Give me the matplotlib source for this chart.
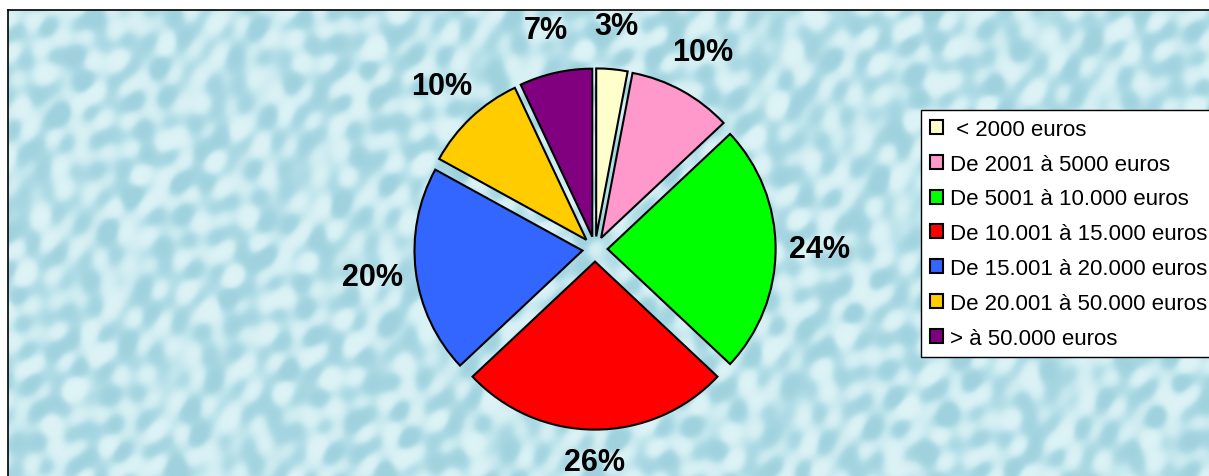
import numpy as np
import matplotlib.pyplot as plt
from matplotlib.colors import LinearSegmentedColormap

categories = [" < 2000 euros", "De 2001 à 5000 euros", "De 5001 à 10.000 euros",
              "De 10.001 à 15.000 euros", "De 15.001 à 20.000 euros",
              "De 20.001 à 50.000 euros", "> à 50.000 euros"]
values = [3, 10, 24, 26, 20, 10, 7]
colors = ["#FFFFCC", "#FF99CC", "#00FF00", "#FF0000", "#3366FF", "#FFCC00", "#800080"]

W, H = 1209, 477
fig = plt.figure(figsize=(W / 100, H / 100), dpi=100)
fig.patch.set_facecolor("white")

# water-drop style backdrop for the plot area
bg = fig.add_axes([8 / W, -0.05, 1.1, (H - 11) / H + 0.05])
yy, xx = np.mgrid[0:500, 0:1400].astype(float)
tex = np.zeros_like(xx)
waves = [(0.113, 0.047, 0.3), (-0.061, 0.124, 1.7), (0.087, -0.083, 2.9),
         (0.171, 0.131, 0.8), (-0.143, 0.069, 4.1), (0.052, 0.193, 5.3),
         (0.229, -0.041, 2.2), (-0.031, -0.211, 3.6), (0.197, 0.181, 0.1),
         (0.071, 0.027, 4.7)]
for kx, ky, ph in waves:
    tex += np.sin(kx * xx + ky * yy + ph)
tex = np.tanh(tex / 2.5)
cmap = LinearSegmentedColormap.from_list("water", ["#9FD2DE", "#BEE4EC", "#DDF3F6"])
bg.imshow(tex, cmap=cmap, aspect="auto", extent=[0, 1, 0, 1], interpolation="bilinear")
bg.set_xlim(0, 1)
bg.set_ylim(0, 1)
bg.set_xticks([])
bg.set_yticks([])
for s in bg.spines.values():
    s.set_color("black")
    s.set_linewidth(1.2)

# pie axes: centre at (595, 250) px, radius about 168 px
cx, cy, r, half = 595, 250, 168, 260
ax = fig.add_axes([(cx - half) / W, (H - cy - half) / H, 2 * half / W, 2 * half / H])
ax.patch.set_alpha(0)
wedges, texts, autotexts = ax.pie(
    values, colors=colors, startangle=90, counterclock=False,
    explode=[0.075] * len(values),
    autopct=lambda p: f"{p:.0f}%", pctdistance=1.26,
    wedgeprops=dict(edgecolor="black", linewidth=1.5),
    textprops=dict(fontsize=22, fontweight="bold", family="Liberation Sans"))
s = half / r
ax.set_xlim(-s, s)
ax.set_ylim(-s, s)
ax.axis("off")

# keep the bottom label from running off the figure
x3, y3 = autotexts[3].get_position()
autotexts[3].set_position((x3, y3 + 0.07))

leg = fig.legend(wedges, categories, loc="upper left",
                 bbox_to_anchor=(921 / W, 1 - 111 / H), borderaxespad=0,
                 prop=dict(family="Liberation Sans", size=16),
                 handlelength=0.6, handleheight=0.6, handletextpad=0.3,
                 labelspacing=0.62, borderpad=0.4, fancybox=False, framealpha=1)
leg.get_frame().set_edgecolor("black")
leg.get_frame().set_linewidth(1.0)

fig.savefig("out.png", dpi=100)
